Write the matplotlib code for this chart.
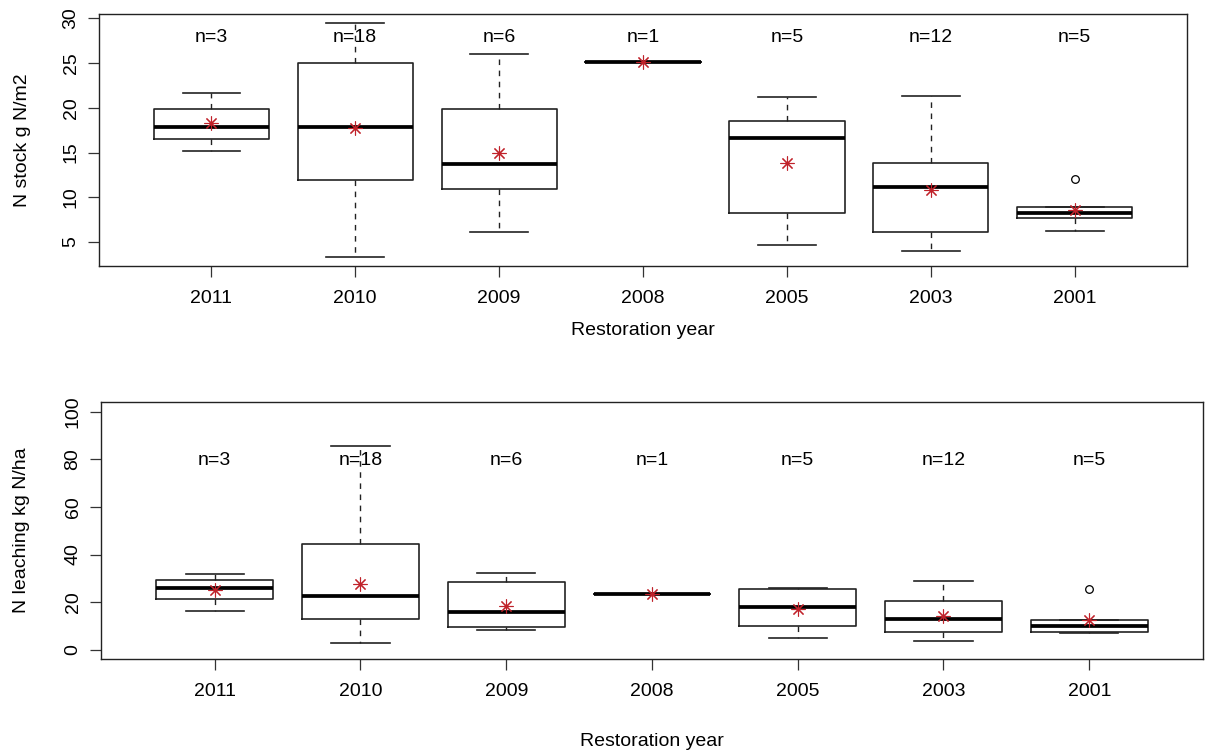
import matplotlib
matplotlib.use('Agg')
import matplotlib.pyplot as plt

plt.rcParams['font.family'] = ['Liberation Sans', 'DejaVu Sans']
plt.rcParams['font.size'] = 14

# group labels and sample sizes
years = ['2011', '2010', '2009', '2008', '2005', '2003', '2001']
n_obs = [3, 18, 6, 1, 5, 12, 5]

# N stock (g N/m2), box statistics
stock_whislo = [15.2, 3.3, 6.1, 25.15, 4.7, 4.0, 6.2]
stock_q1 = [16.5, 11.9, 10.9, 25.15, 8.3, 6.1, 7.65]
stock_med = [17.9, 17.8, 13.7, 25.15, 16.6, 11.2, 8.3]
stock_q3 = [19.9, 25.0, 19.9, 25.15, 18.55, 13.8, 8.95]
stock_whishi = [21.7, 29.5, 26.0, 25.15, 21.2, 21.3, 8.95]
stock_mean = [18.3, 17.7, 15.0, 25.1, 13.8, 10.8, 8.6]
stock_fliers = [[], [], [], [], [], [], [12.0]]

# N leaching (kg N/ha)
leach_whislo = [16.4, 2.8, 8.4, 23.3, 4.9, 3.8, 6.9]
leach_q1 = [21.3, 12.9, 9.4, 23.3, 9.8, 7.3, 7.3]
leach_med = [26.1, 22.5, 16.0, 23.3, 17.8, 12.9, 9.8]
leach_q3 = [29.1, 44.5, 28.5, 23.3, 25.4, 20.5, 12.3]
leach_whishi = [32.0, 85.4, 32.2, 23.3, 25.8, 28.9, 12.3]
leach_mean = [25.0, 27.5, 18.2, 23.6, 17.0, 14.0, 12.3]
leach_fliers = [[], [], [], [], [], [], [25.4]]

line_col = '#222222'
mean_col = '#c0222a'


def make_stats(whislo, q1, med, q3, whishi, fliers):
    stats = []
    for i in range(len(years)):
        stats.append({'whislo': whislo[i], 'q1': q1[i], 'med': med[i],
                      'q3': q3[i], 'whishi': whishi[i], 'fliers': fliers[i],
                      'label': years[i]})
    return stats


def draw_panel(ax, stats, means, ylim, yticks, ylabel, n_y, xlabel_y, ylabel_x):
    pos = list(range(1, len(years) + 1))
    ax.bxp(stats, positions=pos, widths=0.8, capwidths=0.4, showfliers=True,
           boxprops=dict(color=line_col, linewidth=1.2),
           whiskerprops=dict(color=line_col, linewidth=1.0, linestyle=(0, (4, 4))),
           capprops=dict(color=line_col, linewidth=1.2),
           medianprops=dict(color='black', linewidth=2.7, solid_capstyle='butt'),
           flierprops=dict(marker='o', markerfacecolor='none',
                           markeredgecolor='black', markersize=5.5, markeredgewidth=0.9))
    ax.plot(pos, means, linestyle='none', marker=(8, 2, 0), markersize=10,
            markeredgewidth=0.8, color=mean_col, zorder=5)
    for p, n in zip(pos, n_obs):
        ax.text(p, n_y, f'n={n}', ha='center', va='center', fontsize=14)

    ax.set_xlim(0.22, 7.78)
    ax.set_ylim(*ylim)
    ax.set_yticks(yticks)
    ax.set_xticks(pos)
    ax.set_xticklabels(years)
    ax.tick_params(axis='both', length=8, width=0.9, color='#333333', labelsize=14)
    ax.tick_params(axis='x', pad=9)
    ax.tick_params(axis='y', pad=6, labelrotation=90)
    for lab in ax.get_yticklabels():
        lab.set_va('center')
    for sp in ax.spines.values():
        sp.set_linewidth(1.0)
        sp.set_color('#222222')

    ax.set_xlabel('Restoration year', fontsize=14)
    ax.xaxis.label.set_va('center')
    ax.xaxis.set_label_coords(0.5, xlabel_y)
    ax.set_ylabel(ylabel, fontsize=14)
    ax.yaxis.label.set_va('center')
    ax.yaxis.set_label_coords(ylabel_x, 0.5)


fig = plt.figure(figsize=(12.05, 7.53), dpi=100)
ax1 = fig.add_axes([0.0822, 0.6467, 0.9029, 0.3353])
ax2 = fig.add_axes([0.0838, 0.1244, 0.9145, 0.3417])

draw_panel(ax1, make_stats(stock_whislo, stock_q1, stock_med, stock_q3, stock_whishi, stock_fliers),
           stock_mean, (2.32, 30.53), [5, 10, 15, 20, 25, 30], 'N stock g N/m2',
           27.8, -0.257, -0.0708)
draw_panel(ax2, make_stats(leach_whislo, leach_q1, leach_med, leach_q3, leach_whishi, leach_fliers),
           leach_mean, (-4, 104), [0, 20, 40, 60, 80, 100], 'N leaching kg N/ha',
           79.5, -0.3175, -0.0717)

fig.savefig('out.png', dpi=100)
